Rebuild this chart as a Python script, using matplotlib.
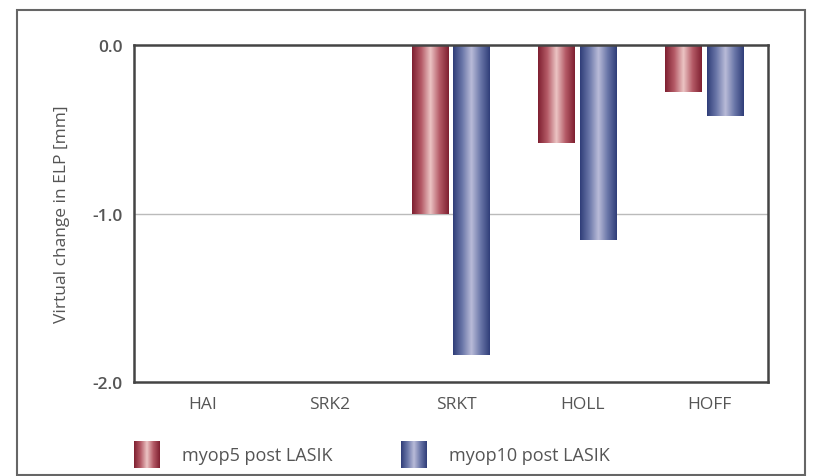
import numpy as np
import matplotlib.pyplot as plt
from matplotlib.colors import LinearSegmentedColormap
from matplotlib.patches import Rectangle

categories = ['HAI', 'SRK2', 'SRKT', 'HOLL', 'HOFF']
myop5 = [0.0, 0.0, -1.0, -0.58, -0.28]
myop10 = [0.0, 0.0, -1.84, -1.16, -0.42]
series_labels = ['myop5 post LASIK', 'myop10 post LASIK']
yticks = [0.0, -1.0, -2.0]

TXT = '#555555'
red_cmap = LinearSegmentedColormap.from_list(
    'red_cyl', ['#7e1f30', '#b45a66', '#ecc4c4', '#b45a66', '#7e1f30'])
blue_cmap = LinearSegmentedColormap.from_list(
    'blue_cyl', ['#2f3d78', '#6a76a8', '#b9bbd8', '#6a76a8', '#2f3d78'])
grad = np.linspace(0, 1, 256).reshape(1, -1)

plt.rcParams['font.family'] = ['Open Sans', 'DejaVu Sans']

fig = plt.figure(figsize=(8.32, 4.77), dpi=100)
fig.patches.append(Rectangle((0.0204, 0.003), 0.947, 0.973, transform=fig.transFigure,
                             fill=False, edgecolor='#666666', linewidth=1.5))

ax = fig.add_axes([0.161, 0.197, 0.762, 0.7065])
x = np.arange(len(categories))
w = 0.29
off = 0.165

ax.axhline(-1.0, color='#bbbbbb', linewidth=1.0, zorder=0)

for vals, dx, cmap in [(myop5, -off, red_cmap), (myop10, off, blue_cmap)]:
    bars = ax.bar(x + dx, vals, width=w, color='none', edgecolor='none')
    for b in bars:
        h = b.get_height()
        if h == 0:
            continue
        x0 = b.get_x()
        ax.imshow(grad, cmap=cmap, aspect='auto', zorder=2,
                  extent=[x0, x0 + b.get_width(), b.get_y() + h, b.get_y()])

ax.set_xlim(-0.5, len(categories) - 0.5)
ax.set_ylim(-2.0, 0.0)
ax.set_yticks(yticks)
ax.set_yticklabels([f'{v:.1f}' for v in yticks], fontsize=12.5, fontweight='semibold', color=TXT)
ax.set_xticks(x + 0.04)
ax.set_xticklabels(categories, fontsize=12.5, color=TXT)
ax.tick_params(axis='both', length=0)
ax.tick_params(axis='y', pad=8)
ax.tick_params(axis='x', pad=10)
ax.set_ylabel('Virtual change in ELP [mm]', fontsize=12.5, color=TXT, labelpad=16)
for s in ax.spines.values():
    s.set_color('#444444')
    s.set_linewidth(1.8)

# legend swatches
for i, (cmap, label) in enumerate([(red_cmap, series_labels[0]), (blue_cmap, series_labels[1])]):
    left = 134 / 832 + i * (267 / 832)
    sw = fig.add_axes([left, (477 - 469) / 477, 26 / 832, 27 / 477])
    sw.imshow(grad, cmap=cmap, aspect='auto')
    sw.axis('off')
    fig.text(left + 48 / 832, (477 - 456) / 477, label, fontsize=13, color=TXT,
             va='center', ha='left')

fig.savefig('out.png', dpi=100)
